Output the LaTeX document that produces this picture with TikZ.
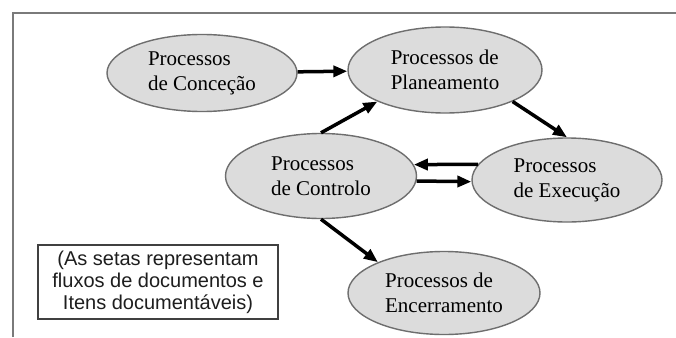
\documentclass[tikz,border=0pt]{standalone}
\usepackage{fontspec}
\setmainfont{Liberation Serif}
\newfontfamily\legendfont{Liberation Sans}
\usetikzlibrary{shapes.geometric,arrows.meta}
\definecolor{ellfill}{HTML}{DCDCDC}
\definecolor{ellborder}{HTML}{6E6E6E}
\definecolor{framecol}{HTML}{7A7A7A}
\definecolor{legborder}{HTML}{404040}
\definecolor{legtext}{HTML}{1E1E1E}
\begin{document}
\begin{tikzpicture}[x=1pt,y=-1pt,
  proc/.style={ellipse, draw=ellborder, fill=ellfill, line width=1.4pt, inner sep=0pt,
    minimum width=190pt, minimum height=84pt, align=left,
    font=\fontsize{21}{25}\selectfont},
  arr/.style={line width=3.5pt, draw=black, -{Triangle[length=14pt,width=11pt]}},
  legend/.style={draw=legborder, line width=1.6pt, fill=white, minimum width=240pt,
    minimum height=74pt, align=center, text=legtext,
    font=\legendfont\fontsize{20}{22}\selectfont}]
\useasboundingbox (0,0) rectangle (676,337);
\fill[white] (0,0) rectangle (676,337);
% frame
\draw[framecol, line width=2pt] (13,337) -- (13,13) -- (676,13);
% nodes
\node[proc, minimum width=190pt, minimum height=77pt] (conc) at (202,73) {Processos\\de Conceção};
\node[proc, minimum width=194pt, minimum height=86pt] (plan) at (445,70) {Processos de\\Planeamento};
\node[proc, minimum width=191pt, minimum height=85pt] (ctrl) at (321,176) {Processos\\de Controlo};
\node[proc, minimum width=190pt, minimum height=84pt] (exec) at (567,180) {Processos\\de Execução};
\node[proc, minimum width=192pt, minimum height=83pt] (enc) at (444,293) {Processos de\\Encerramento};
\node[legend] (leg) at (158,282) {(As setas representam\\fluxos de documentos e\\Itens documentáveis)};
% connectors
\draw[arr] (conc) -- (plan);
\draw[arr] (plan.-25.5) -- (exec.north);
\draw[arr] (ctrl.north) -- (plan.-155);
\draw[arr] (exec.170) -- (ctrl.7);
\draw[arr] (ctrl.-3.7) -- (exec.181.5);
\draw[arr] (ctrl.south) -- (enc.155);
\end{tikzpicture}
\end{document}
